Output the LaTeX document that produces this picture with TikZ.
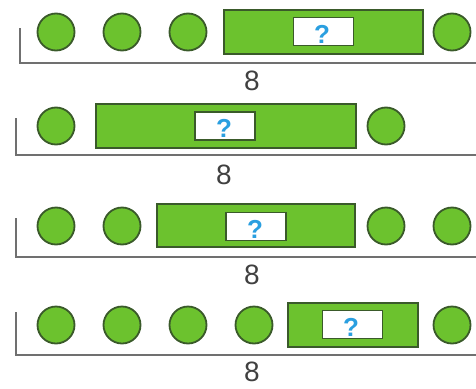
\documentclass[tikz,border=0pt]{standalone}
\usepackage{fontspec}
\setmainfont{Liberation Sans}
\definecolor{ballgreen}{HTML}{6CC22E}
\definecolor{dkgreen}{HTML}{3A5A2A}
\definecolor{qblue}{HTML}{2A9FE0}
\definecolor{linegray}{HTML}{707070}
\definecolor{numgray}{HTML}{404040}
\begin{document}
\begin{tikzpicture}[x=1pt,y=-1pt,
  ball/.style={circle, draw=dkgreen, fill=ballgreen, line width=1.8pt, minimum size=37pt, inner sep=0pt},
  bar/.style={rectangle, draw=dkgreen, fill=ballgreen, line width=1.8pt, inner sep=0pt},
  qbox/.style={rectangle, draw=dkgreen, fill=white, line width=1.5pt, inner sep=0pt, minimum width=60pt, minimum height=28pt},
  qmark/.style={text=qblue, font=\fontsize{26}{26}\selectfont\bfseries, inner sep=0pt},
  bracket/.style={draw=linegray, line width=1.6pt},
  lbl/.style={inner sep=0pt, text=numgray, font=\fontsize{28}{28}\selectfont}]
\useasboundingbox (0,0) rectangle (476,388);
% Row 1
\coordinate (t1) at (20,28);
\coordinate (e1) at (476,63);
\draw[bracket] (t1) |- (e1);
\node[ball] (r1a) at (56,32) {};
\node[ball] (r1b) at (122,32) {};
\node[ball] (r1c) at (188,32) {};
\node[bar, minimum width=199pt, minimum height=44pt] (r1bar) at (323.5,32) {};
\node[qbox] (r1q) at (323.5,31.5) {};
\node[qmark] (r1qt) at (322,34) {?};
\node[ball] (r1d) at (452,32) {};
\node[lbl] (n1) at (252,81) {8};
% Row 2
\coordinate (t2) at (16,118);
\coordinate (e2) at (476,155);
\draw[bracket] (t2) |- (e2);
\node[ball] (r2a) at (56,126) {};
\node[bar, minimum width=260pt, minimum height=44pt] (r2bar) at (226,126) {};
\node[qbox] (r2q) at (225,126) {};
\node[qmark] (r2qt) at (224,128.5) {?};
\node[ball] (r2b) at (386,126) {};
\node[lbl] (n2) at (224,175) {8};
% Row 3
\coordinate (t3) at (16,218);
\coordinate (e3) at (476,257);
\draw[bracket] (t3) |- (e3);
\node[ball] (r3a) at (56,226) {};
\node[ball] (r3b) at (122,226) {};
\node[bar, minimum width=198pt, minimum height=43pt] (r3bar) at (256,225.5) {};
\node[qbox] (r3q) at (256,226.5) {};
\node[qmark] (r3qt) at (255,229) {?};
\node[ball] (r3c) at (386,226) {};
\node[ball] (r3d) at (452,226) {};
\node[lbl] (n3) at (252,275) {8};
% Row 4
\coordinate (t4) at (16,312);
\coordinate (e4) at (476,355);
\draw[bracket] (t4) |- (e4);
\node[ball] (r4a) at (56,325) {};
\node[ball] (r4b) at (122,325) {};
\node[ball] (r4c) at (188,325) {};
\node[ball] (r4d) at (254,325) {};
\node[bar, minimum width=130pt, minimum height=44pt] (r4bar) at (353,325) {};
\node[qbox] (r4q) at (352.5,324.5) {};
\node[qmark] (r4qt) at (351,327) {?};
\node[ball] (r4e) at (452,325) {};
\node[lbl] (n4) at (252,371.5) {8};
\end{tikzpicture}
\end{document}
